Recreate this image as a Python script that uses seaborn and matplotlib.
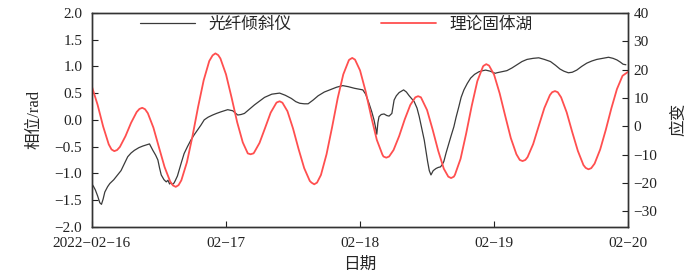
import matplotlib
matplotlib.use("Agg")
import matplotlib.pyplot as plt
import pandas as pd
import seaborn as sns

# hours after 2022-02-16 00:00
gray_hours = [
    0.0, 0.3, 0.6, 1.0, 1.4, 1.7, 2.0, 2.3, 2.8, 3.2, 3.9, 4.6, 5.2, 5.8, 6.4, 7.0,
    7.6, 8.4, 9.1, 9.7, 10.3, 10.9, 11.4, 11.8, 12.1, 12.4, 12.9, 13.3, 13.6, 13.9,
    14.1, 14.4, 14.7, 14.9, 15.3, 15.6, 16.0, 16.5, 17.1, 17.7, 18.3, 18.9, 19.5,
    20.1, 20.8, 21.6, 22.3, 23.1, 23.7, 24.3, 25.2, 26.1, 26.7, 27.3, 28.2, 29.1,
    30.0, 30.9, 32.2, 33.6, 34.6, 35.7, 36.5, 37.2, 38.0, 38.7, 39.6, 40.5, 41.6,
    42.8, 43.8, 44.9, 45.9, 47.0, 48.0, 48.5, 49.0, 49.6, 50.1, 50.5, 50.8, 51.0,
    51.2, 51.4, 51.8, 52.3, 52.8, 53.2, 53.7, 54.1, 54.5, 55.0, 55.8, 56.3, 56.8,
    57.2, 57.7, 58.2, 58.6, 59.1, 59.5, 59.8, 60.1, 60.4, 60.7, 61.1, 61.6, 62.0,
    62.4, 62.7, 63.0, 63.4, 63.9, 64.3, 64.8, 65.2, 65.7, 66.1, 66.6, 67.2, 67.8,
    68.5, 69.3, 70.0, 70.5, 71.3, 72.2, 72.5, 73.4, 74.3, 75.2, 76.1, 77.0, 77.9,
    79.0, 80.0, 81.0, 82.1, 83.0, 83.8, 84.5, 85.3, 86.0, 86.8, 87.7, 88.6, 89.5,
    90.4, 91.5, 92.5, 93.3, 94.0, 94.6, 95.1, 95.6,
]
gray_phase = [
    -1.20, -1.25, -1.31, -1.42, -1.55, -1.58, -1.48, -1.35, -1.25, -1.19, -1.12,
    -1.03, -0.95, -0.82, -0.69, -0.62, -0.57, -0.52, -0.49, -0.47, -0.45, -0.57,
    -0.66, -0.75, -0.90, -1.03, -1.12, -1.16, -1.13, -1.20, -1.17, -1.21, -1.18,
    -1.14, -1.05, -0.94, -0.80, -0.63, -0.50, -0.38, -0.28, -0.19, -0.10, 0.00,
    0.05, 0.09, 0.12, 0.15, 0.17, 0.19, 0.17, 0.09, 0.10, 0.12, 0.20, 0.28, 0.35,
    0.42, 0.48, 0.50, 0.46, 0.40, 0.34, 0.31, 0.30, 0.30, 0.37, 0.45, 0.52, 0.57,
    0.61, 0.64, 0.62, 0.59, 0.57, 0.56, 0.48, 0.31, 0.15, 0.00, -0.15, -0.27,
    -0.05, 0.06, 0.10, 0.11, 0.08, 0.07, 0.12, 0.37, 0.45, 0.51, 0.56, 0.52, 0.45,
    0.40, 0.34, 0.22, 0.06, -0.18, -0.38, -0.58, -0.78, -0.95, -1.03, -0.95, -0.91,
    -0.89, -0.88, -0.84, -0.78, -0.62, -0.44, -0.30, -0.13, 0.05, 0.25, 0.42, 0.56,
    0.68, 0.78, 0.85, 0.90, 0.92, 0.93, 0.91, 0.87, 0.88, 0.90, 0.92, 0.97, 1.03,
    1.09, 1.13, 1.15, 1.16, 1.13, 1.09, 1.02, 0.95, 0.91, 0.88, 0.89, 0.93, 1.00,
    1.06, 1.10, 1.13, 1.15, 1.17, 1.15, 1.12, 1.08, 1.04, 1.03,
]

red_hours = [
    0, 1, 2, 3, 3.5, 4, 4.5, 5, 6, 7, 8, 8.5, 9, 9.5, 10, 11, 12, 13, 14, 14.5, 15,
    15.5, 16, 17, 18, 19, 20, 21, 21.6, 22.1, 22.6, 23, 24, 25, 26, 27, 27.9, 28.4,
    28.9, 29, 30, 31, 32, 33, 33.1, 33.6, 34.1, 35, 36, 37, 38, 39, 39.3, 39.8,
    40.3, 41, 42, 43, 44, 45, 46, 46.1, 46.6, 47.1, 48, 49, 50, 51, 52, 52.2, 52.7,
    53.2, 54, 55, 56, 57, 57.9, 58.4, 58.9, 60, 61, 62, 63, 63.8, 64.3, 64.8, 65,
    66, 67, 68, 69, 70, 70.1, 70.6, 71.1, 72, 73, 74, 75, 76, 76.6, 77.1, 77.6, 78,
    79, 80, 81, 82, 82.4, 82.9, 83.4, 84, 85, 86, 87, 88, 88.4, 88.9, 89.4, 90, 91,
    92, 93, 94, 95, 96,
]
red_strain = [
    13.9, 7.6, -0.1, -6.4, -8.2, -8.8, -8.4, -7.3, -3.5, 1.2, 5.0, 6.1, 6.5, 6.0,
    4.6, -0.5, -7.5, -14.4, -19.5, -20.9, -21.4, -20.8, -19.1, -12.7, -3.5, 6.8,
    16.2, 23.0, 25.0, 25.7, 25.1, 23.9, 18.3, 10.1, 1.4, -5.7, -9.6, -9.9, -9.6,
    -9.4, -5.9, -0.6, 4.8, 8.2, 8.4, 8.8, 8.3, 5.3, -0.8, -8.1, -14.8, -19.3,
    -19.9, -20.5, -19.9, -17.2, -9.9, -0.3, 9.9, 18.3, 23.3, 23.5, 24.1, 23.5,
    19.7, 12.3, 3.4, -4.8, -10.0, -10.7, -11.1, -10.7, -8.4, -3.5, 2.4, 7.5, 10.2,
    10.6, 10.2, 5.7, -1.2, -8.7, -15.0, -17.8, -18.3, -17.8, -17.1, -11.5, -2.6,
    7.2, 15.9, 21.0, 21.3, 21.9, 21.4, 18.2, 11.6, 3.6, -4.2, -9.9, -11.9, -12.3,
    -11.9, -10.9, -6.3, 0.1, 6.4, 11.0, 12.0, 12.4, 12.0, 10.2, 4.9, -2.1, -8.7,
    -13.7, -14.7, -15.2, -14.8, -13.2, -8.2, -1.3, 6.3, 13.1, 17.8, 19.2,
]

series_names = ["光纤倾斜仪", "理论固体湖"]
tick_labels = ["2022−02−16", "02−17", "02−18", "02−19", "02−20"]
phase_ticks = [-2.0, -1.5, -1.0, -0.5, 0.0, 0.5, 1.0, 1.5, 2.0]
strain_ticks = [-30, -20, -10, 0, 10, 20, 30, 40]

sns.set_style("ticks")
plt.rcParams["font.family"] = ["Liberation Serif", "Noto Sans CJK SC"]

start = pd.Timestamp("2022-02-16")
gray_df = pd.DataFrame({
    "time": start + pd.to_timedelta(gray_hours, unit="h"),
    "phase": gray_phase,
})
red_df = pd.DataFrame({
    "time": start + pd.to_timedelta(red_hours, unit="h"),
    "strain": red_strain,
})

fig = plt.figure(figsize=(6.9, 2.8), dpi=100)
ax = fig.add_axes([0.1333, 0.190, 0.777, 0.764])
ax2 = ax.twinx()

sns.lineplot(data=gray_df, x="time", y="phase", ax=ax, color="#3a3a3a",
             linewidth=0.9, legend=False)
sns.lineplot(data=red_df, x="time", y="strain", ax=ax2, color="#ff4f4f",
             linewidth=1.3, legend=False)

day_ticks = pd.date_range(start, periods=len(tick_labels), freq="D")
ax.set_xlim(day_ticks[0], day_ticks[-1])
ax.set_xticks(day_ticks)
ax.set_xticklabels(tick_labels)

ax.set_ylim(-2.0, 2.0)
ax.set_yticks(phase_ticks)
ax2.set_ylim(-35.5, 40)
ax2.set_yticks(strain_ticks)

ax.set_xlabel("日期", fontsize=12, labelpad=5)
ax.set_ylabel("相位/rad", fontsize=12, labelpad=9)
ax2.set_ylabel("应变", fontsize=12, labelpad=10)

for a in (ax, ax2):
    a.tick_params(direction="in", length=4, width=0.8, labelsize=11, colors="#222222")
    for sp in a.spines.values():
        sp.set_visible(True)
        sp.set_color("#333333")
        sp.set_linewidth(1.0)
ax.tick_params(axis="x", pad=7)
ax.tick_params(axis="y", right=False, pad=7)
ax2.tick_params(axis="y", left=False, pad=4)

handles = [ax.lines[0], ax2.lines[0]]
ax2.legend(handles, series_names, loc="center left", bbox_to_anchor=(0.0896, 0.944),
           ncol=2, frameon=False, fontsize=12, handlelength=3.3, handletextpad=0.8,
           columnspacing=5.4, borderpad=0, borderaxespad=0)

fig.savefig("out.png", dpi=100)
